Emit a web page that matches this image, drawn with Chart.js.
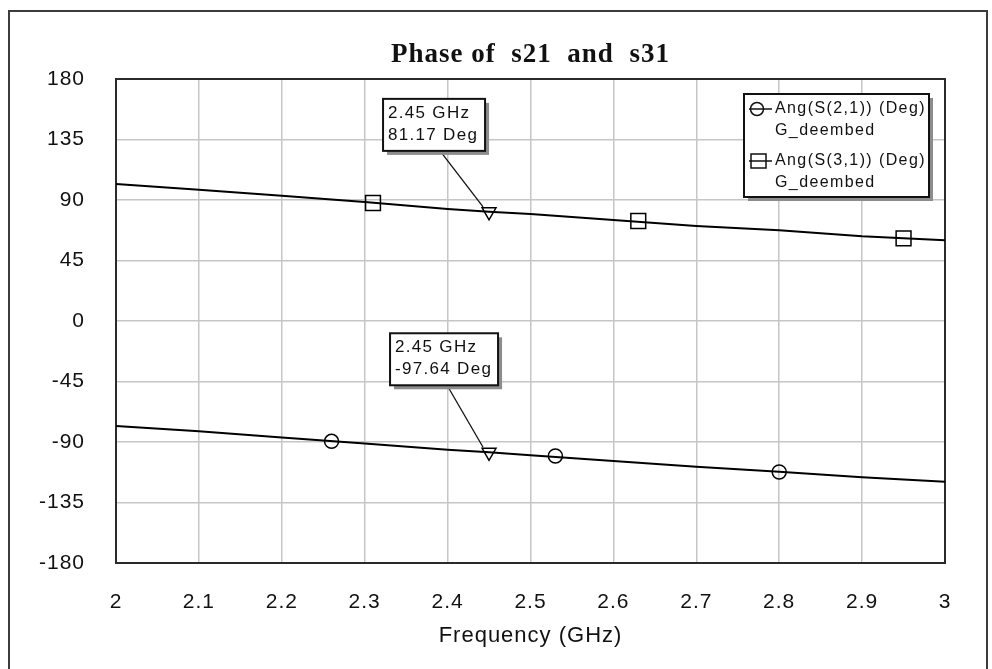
<!DOCTYPE html>
<html>
<head>
<meta charset="utf-8">
<title>Phase of s21 and s31</title>
<script src="https://cdn.jsdelivr.net/npm/chart.js@4.4.0/dist/chart.umd.min.js"></script>
<style>
  html, body { margin: 0; padding: 0; background: #fff; }
  #wrap { position: relative; width: 992px; height: 669px; overflow: hidden; }
  #frame { position: absolute; left: 8px; top: 10px; width: 980px; height: 700px;
           border: 2px solid #3c3c3c; box-sizing: border-box; }
  canvas { position: absolute; left: 0; top: 0; }
</style>
</head>
<body>
<div id="wrap">
  <div id="frame"></div>
  <canvas id="chart" width="992" height="669"></canvas>
</div>
<script>
// ─────────────────────────────────────────
// DATA
// ─────────────────────────────────────────
const freqGHz = [2.0, 2.1, 2.2, 2.3, 2.4, 2.45, 2.5, 2.6, 2.7, 2.8, 2.9, 3.0];
const s21Deg = [-78.1, -82.0, -86.7, -91.2, -95.7, -97.64, -99.9, -104.1, -108.4, -112.2, -116.3, -119.5];
const s31Deg = [101.9, 97.7, 93.2, 88.5, 83.3, 81.17, 79.6, 75.1, 70.7, 67.5, 63.0, 60.0];

// symbol positions along each trace
const s21MarkFreq = [2.26, 2.53, 2.8];
const s21MarkDeg = [-89.5, -100.4, -112.3];
const s31MarkFreq = [2.31, 2.63, 2.95];
const s31MarkDeg = [87.8, 74.4, 61.5];

// marker readouts (s31 first, then s21)
const markerFreq = 2.45;
const markerDeg = [81.17, -97.64];

const xTicks = [2, 2.1, 2.2, 2.3, 2.4, 2.5, 2.6, 2.7, 2.8, 2.9, 3];
const yTicks = [-180, -135, -90, -45, 0, 45, 90, 135, 180];

const titleText = 'Phase of  s21  and  s31';
const xTitle = 'Frequency (GHz)';
const legendLines = [
  ['Ang(S(2,1)) (Deg)', 'G_deembed'],
  ['Ang(S(3,1)) (Deg)', 'G_deembed'],
];

// ─────────────────────────────────────────
// HELPERS
// ─────────────────────────────────────────
const SANS = "'Liberation Sans', Arial, sans-serif";
const INK = '#111';

function toPts(xs, ys) {
  return xs.map((x, i) => ({ x, y: ys[i] }));
}

function shadowBox(ctx, x, y, w, h) {
  ctx.fillStyle = '#8c8c8c';
  ctx.fillRect(x + 4, y + 4, w, h);
  ctx.fillStyle = '#fff';
  ctx.fillRect(x, y, w, h);
  ctx.strokeStyle = INK;
  ctx.lineWidth = 2;
  ctx.strokeRect(x, y, w, h);
}

// ─────────────────────────────────────────
// PLUGINS
// ─────────────────────────────────────────
const spacing = {
  id: 'spacing',
  beforeUpdate(chart) { chart.ctx.letterSpacing = '1px'; },
  beforeDraw(chart) { chart.ctx.letterSpacing = '1px'; },
};

const plotFrame = {
  id: 'plotFrame',
  beforeDatasetsDraw(chart) {
    const { ctx, chartArea: a } = chart;
    ctx.save();
    ctx.strokeStyle = '#2a2a2a';
    ctx.lineWidth = 2;
    ctx.strokeRect(a.left, a.top, a.right - a.left, a.bottom - a.top);
    ctx.restore();
  },
};

// box offsets from the marker, in px
const calloutLayout = [
  { dx: -106, dy: -113, w: 102 },
  { dx: -99, dy: -119, w: 108 },
];

const overlays = {
  id: 'overlays',
  afterDraw(chart) {
    const { ctx, chartArea: a } = chart;
    const xs = chart.scales.x, ys = chart.scales.y;
    ctx.save();

    // marker callouts
    markerDeg.forEach((deg, i) => {
      const px = xs.getPixelForValue(markerFreq);
      const py = ys.getPixelForValue(deg);
      const L = calloutLayout[i];
      const bx = px + L.dx, by = py + L.dy, h = 52;
      ctx.strokeStyle = INK;
      ctx.lineWidth = 1.3;
      ctx.beginPath();
      ctx.moveTo(bx + 57, by + h);
      ctx.lineTo(px - 6, py - 5);
      ctx.stroke();
      shadowBox(ctx, bx, by, L.w, h);
      ctx.fillStyle = INK;
      ctx.font = '17px ' + SANS;
      ctx.letterSpacing = '1.3px';
      ctx.textAlign = 'left';
      ctx.textBaseline = 'middle';
      ctx.fillText(markerFreq + ' GHz', bx + 5, by + 14);
      ctx.fillText(deg.toFixed(2) + ' Deg', bx + 5, by + 36);
    });

    // legend
    const lw = 185, lh = 103;
    const lx = a.right - 16 - lw, ly = a.top + 15;
    shadowBox(ctx, lx, ly, lw, lh);
    ctx.font = '16px ' + SANS;
    ctx.letterSpacing = '1.4px';
    ctx.textAlign = 'left';
    ctx.textBaseline = 'middle';
    legendLines.forEach((lines, i) => {
      const y0 = ly + 15 + i * 52;
      ctx.strokeStyle = INK;
      ctx.lineWidth = 1.5;
      ctx.beginPath();
      ctx.moveTo(lx + 5, y0);
      ctx.lineTo(lx + 28, y0);
      ctx.stroke();
      if (i === 0) {
        ctx.beginPath();
        ctx.arc(lx + 13, y0, 6.5, 0, Math.PI * 2);
        ctx.stroke();
      } else {
        ctx.strokeRect(lx + 7, y0 - 7, 15, 14);
      }
      ctx.fillStyle = INK;
      ctx.fillText(lines[0], lx + 31, y0);
      ctx.fillText(lines[1], lx + 31, y0 + 21.5);
    });
    ctx.restore();
  },
};

// ─────────────────────────────────────────
// CHART
// ─────────────────────────────────────────
const lineStyle = {
  showLine: true,
  borderColor: '#000',
  borderWidth: 2,
  pointRadius: 0,
  tension: 0,
  fill: false,
};
const markStyle = {
  showLine: false,
  borderColor: '#000',
  backgroundColor: 'rgba(0,0,0,0)',
  pointBorderWidth: 1.5,
};

new Chart(document.getElementById('chart'), {
  type: 'scatter',
  data: {
    datasets: [
      { ...lineStyle, data: toPts(freqGHz, s21Deg) },
      { ...lineStyle, data: toPts(freqGHz, s31Deg) },
      { ...markStyle, data: toPts(s21MarkFreq, s21MarkDeg), pointStyle: 'circle', pointRadius: 7 },
      { ...markStyle, data: toPts(s31MarkFreq, s31MarkDeg), pointStyle: 'rect', pointRadius: 10.5 },
      {
        ...markStyle,
        data: markerDeg.map(d => ({ x: markerFreq, y: d })),
        pointStyle: 'triangle',
        rotation: 180,
        pointRadius: 8,
      },
    ],
  },
  options: {
    responsive: false,
    animation: false,
    events: [],
    layout: { padding: { top: 0, left: 0, right: 47, bottom: 0 } },
    plugins: {
      legend: { display: false },
      tooltip: { enabled: false },
      title: {
        display: true,
        text: titleText,
        fullSize: false,
        color: INK,
        font: { family: "'Liberation Serif', 'Times New Roman', serif", size: 27, weight: 'bold' },
        padding: { top: 39, bottom: 7.6 },
      },
    },
    scales: {
      x: {
        type: 'linear',
        min: 2,
        max: 3,
        afterBuildTicks(scale) { scale.ticks = xTicks.map(v => ({ value: v })); },
        afterFit(scale) { scale.height = 106; },
        ticks: {
          padding: 27,
          maxRotation: 0,
          autoSkip: false,
          color: INK,
          font: { family: SANS, size: 21 },
          callback: v => String(Number(v.toFixed(1))),
        },
        grid: { color: '#c6c6c6', lineWidth: 1.5, drawTicks: false },
        border: { display: false },
        title: {
          display: true,
          text: xTitle,
          color: INK,
          font: { family: SANS, size: 22 },
          padding: { top: 0, bottom: 20 },
        },
      },
      y: {
        min: -180,
        max: 180,
        afterBuildTicks(scale) { scale.ticks = yTicks.map(v => ({ value: v })); },
        afterFit(scale) { scale.width = 116; },
        ticks: {
          padding: 31,
          autoSkip: false,
          color: INK,
          font: { family: SANS, size: 21 },
        },
        grid: { color: '#c6c6c6', lineWidth: 1.5, drawTicks: false },
        border: { display: false },
      },
    },
  },
  plugins: [spacing, plotFrame, overlays],
});
</script>
</body>
</html>
